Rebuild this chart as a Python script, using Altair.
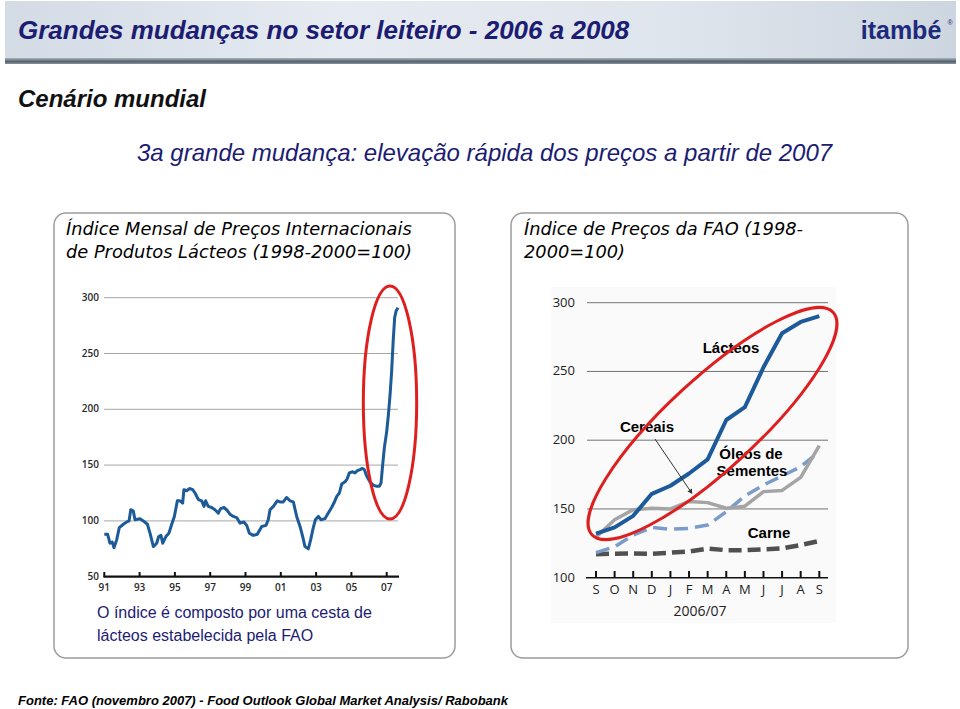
import altair as alt
import pandas as pd

# ---------------- data: left chart (monthly dairy price index, 1998-2000=100)
dairy_years = [1991.00, 1991.19, 1991.32, 1991.45, 1991.55, 1991.70, 1991.85, 1992.08, 1992.27, 1992.40,
               1992.50, 1992.64, 1992.74, 1993.02, 1993.21, 1993.44, 1993.59, 1993.78, 1993.97, 1994.08,
               1994.21, 1994.31, 1994.49, 1994.66, 1994.82, 1994.97, 1995.14, 1995.29, 1995.44, 1995.51,
               1995.67, 1995.82, 1996.01, 1996.14, 1996.33, 1996.52, 1996.65, 1996.74, 1996.89, 1997.08,
               1997.27, 1997.46, 1997.59, 1997.78, 1997.93, 1998.12, 1998.31, 1998.50, 1998.69, 1998.91,
               1999.07, 1999.22, 1999.44, 1999.67, 1999.92, 2000.16, 2000.29, 2000.39, 2000.58, 2000.80,
               2000.95, 2001.14, 2001.33, 2001.52, 2001.71, 2001.90, 2002.09, 2002.24, 2002.37, 2002.56,
               2002.69, 2002.84, 2002.96, 2003.13, 2003.28, 2003.50, 2003.69, 2003.88, 2004.01, 2004.17,
               2004.32, 2004.45, 2004.64, 2004.77, 2004.88, 2005.07, 2005.20, 2005.34, 2005.49, 2005.62,
               2005.73, 2005.87, 2006.05, 2006.24, 2006.43, 2006.58, 2006.68, 2006.77, 2006.87, 2007.00,
               2007.09, 2007.19, 2007.28, 2007.37, 2007.45, 2007.53, 2007.64]
dairy_index = [88, 88, 80, 81, 76, 83, 94, 97, 99, 100,
               110, 109, 101, 102, 100, 97, 89, 77, 80, 86,
               87, 80, 86, 89, 97, 104, 118, 118, 116, 128,
               127, 129, 128, 125, 119, 118, 113, 118, 113, 112,
               110, 107, 111, 112, 110, 106, 104, 103, 98, 99,
               96, 89, 87, 88, 95, 96, 101, 110, 113, 118,
               117, 117, 121, 118, 117, 104, 95, 86, 77, 75,
               83, 94, 101, 104, 101, 102, 107, 112, 116, 122,
               125, 133, 135, 138, 143, 144, 143, 145, 146, 147,
               146, 140, 135, 132, 131, 131, 134, 150, 166, 180,
               194, 213, 234, 262, 282, 288, 291]
left_y_ticks = [300, 250, 200, 150, 100, 50]
left_grid = [100, 150, 200, 250, 300]
left_x_ticks = [1991, 1993, 1995, 1997, 1999, 2001, 2003, 2005, 2007]
left_x_labels = ["91", "93", "95", "97", "99", "01", "03", "05", "07"]

# ---------------- data: right chart (FAO price indices, Sep 2006 - Sep 2007)
months = ["S", "O", "N", "D", "J", "F", "M", "A", "M", "J", "J", "A", "S"]
month_pos = list(range(13))
lacteos = [132, 136.6, 145, 161, 166.9, 175.8, 186, 214.7, 224, 253, 277.8, 286, 290.3]
cereais = [129.5, 142.2, 149.5, 150.5, 150, 155.5, 154.6, 150.5, 152, 162.6, 163.5, 173, 196]
oleos = [118.2, 122.5, 131, 136.6, 135.2, 135.9, 138.3, 148, 159.4, 167.4, 174, 180.7, 191.6]
carne = [117, 117.5, 117.7, 117.3, 118.2, 119, 121.2, 120, 120, 120.6, 121.3, 123.8, 126.7]
right_y_ticks = [300, 250, 200, 150, 100]
right_grid = [150, 200, 250, 300]

NAVY = "#1c1c72"
ARIAL = "Liberation Sans"
one = pd.DataFrame({"k": [0]})

LX = alt.Scale(domain=[1991, 2007], range=[104.3, 386.7], nice=False, zero=False)
LY = alt.Scale(domain=[50, 300], range=[576.7, 297.7], nice=False, zero=False)
RX = alt.Scale(domain=[0, 12], range=[596, 819.3], nice=False, zero=False)
RY = alt.Scale(domain=[100, 300], range=[577.7, 302.7], nice=False, zero=False)


def txt(s, x, y, size, color="black", weight="normal", style="normal", font=ARIAL, align="left"):
    return alt.Chart(pd.DataFrame({"t": [s]})).mark_text(
        align=align, baseline="middle", fontSize=size, fontWeight=weight,
        fontStyle=style, font=font, color=color
    ).encode(x=alt.value(x), y=alt.value(y), text="t:N")


def rect(x1, x2, y1, y2, **kw):
    return alt.Chart(one).mark_rect(**kw).encode(
        x=alt.value(x1), x2=alt.value(x2), y=alt.value(y1), y2=alt.value(y2))


def ellipse_path(a, b):
    k = 0.5523
    return (f"M 0 {-b} C {k*a} {-b} {a} {-k*b} {a} 0 C {a} {k*b} {k*a} {b} 0 {b} "
            f"C {-k*a} {b} {-a} {k*b} {-a} 0 C {-a} {-k*b} {-k*a} {-b} 0 {-b} Z")


layers = []

# ---------------- header band
header_grad = alt.Gradient(
    gradient="linear", x1=0, x2=1, y1=0, y2=0,
    stops=[alt.GradientStop(color="#d3dbe5", offset=0),
           alt.GradientStop(color="#e6ebf1", offset=0.35),
           alt.GradientStop(color="#dfe5ec", offset=0.7),
           alt.GradientStop(color="#cdd6e0", offset=1)])
layers.append(rect(5, 956, 1, 59, fill=header_grad))
bar_grad = alt.Gradient(
    gradient="linear", x1=0, x2=0, y1=0, y2=1,
    stops=[alt.GradientStop(color="#aab4bf", offset=0),
           alt.GradientStop(color="#55616d", offset=0.6),
           alt.GradientStop(color="#8a95a0", offset=1)])
layers.append(rect(5, 956, 58, 64, fill=bar_grad))
layers.append(txt("Grandes mudanças no setor leiteiro - 2006 a 2008", 18, 31, 26,
                  color=NAVY, weight="bold", style="italic"))
layers.append(txt("itambé", 901, 31, 25, color="#1e2a7c", weight=900, align="center"))
layers.append(txt("®", 950, 23, 7, color="#1e2a7c", align="center"))

layers.append(txt("Cenário mundial", 18, 100, 24, color="#111111", weight="bold", style="italic"))
layers.append(txt("3a grande mudança: elevação rápida dos preços a partir de 2007", 137, 154, 24,
                  color=NAVY, style="italic"))

# ---------------- boxes
layers.append(rect(54, 455, 213, 658, fill="white", stroke="#9c9c9c", strokeWidth=1.5, cornerRadius=12))
layers.append(rect(511, 908, 213, 658, fill="white", stroke="#9c9c9c", strokeWidth=1.5, cornerRadius=12))

BT = "DejaVu Sans"
layers.append(txt("Índice Mensal de Preços Internacionais", 66, 230, 17.8, style="italic", font=BT))
layers.append(txt("de Produtos Lácteos (1998-2000=100)", 66, 253, 17.8, style="italic", font=BT))
layers.append(txt("Índice de  Preços da FAO (1998-", 524, 230, 17.8, style="italic", font=BT))
layers.append(txt("2000=100)", 524, 253, 17.8, style="italic", font=BT))

layers.append(txt("O índice é composto por uma cesta de", 97, 613, 16, color=NAVY))
layers.append(txt("lácteos estabelecida pela FAO", 97, 636, 16, color=NAVY))

layers.append(txt("Fonte: FAO (novembro 2007) - Food Outlook Global Market Analysis/ Rabobank",
                  18, 701, 13, weight="bold", style="italic"))

# ---------------- left chart
TF = "Open Sans"
layers.append(alt.Chart(pd.DataFrame({"v": left_grid})).mark_rule(color="#a6a6a6", strokeWidth=1).encode(
    y=alt.Y("v:Q", scale=LY, axis=None), x=alt.value(104), x2=alt.value(398)))
layers.append(alt.Chart(pd.DataFrame({"v": [50]})).mark_rule(color="#111111", strokeWidth=2.3).encode(
    y=alt.Y("v:Q", scale=LY, axis=None), x=alt.value(103.5), x2=alt.value(399)))
layers.append(alt.Chart(pd.DataFrame({"yr": left_x_ticks})).mark_rule(color="#111111", strokeWidth=2).encode(
    x=alt.X("yr:Q", scale=LX, axis=None), y=alt.value(577), y2=alt.value(572)))
layers.append(alt.Chart(pd.DataFrame({"yr": left_x_ticks, "lab": left_x_labels})).mark_text(
    fontSize=10, font=TF, fontWeight=600, color="#2a2a2a", baseline="middle").encode(
    x=alt.X("yr:Q", scale=LX, axis=None), y=alt.value(588), text="lab:N"))
layers.append(alt.Chart(pd.DataFrame({"v": left_y_ticks})).mark_text(
    fontSize=10, font=TF, fontWeight=600, color="#2a2a2a", baseline="middle", align="right").encode(
    y=alt.Y("v:Q", scale=LY, axis=None), x=alt.value(99), text="v:Q"))
layers.append(alt.Chart(pd.DataFrame({"yr": dairy_years, "v": dairy_index})).mark_line(
    color="#1c5b98", strokeWidth=3, strokeJoin="round").encode(
    x=alt.X("yr:Q", scale=LX, axis=None), y=alt.Y("v:Q", scale=LY, axis=None)))

# ---------------- right chart
layers.append(rect(551, 836, 287, 623, fill="#fafafa"))
layers.append(alt.Chart(pd.DataFrame({"v": right_grid})).mark_rule(color="#737373", strokeWidth=1).encode(
    y=alt.Y("v:Q", scale=RY, axis=None), x=alt.value(587), x2=alt.value(828)))
layers.append(alt.Chart(pd.DataFrame({"v": [100]})).mark_rule(color="#111111", strokeWidth=1.5).encode(
    y=alt.Y("v:Q", scale=RY, axis=None), x=alt.value(586), x2=alt.value(828)))
layers.append(alt.Chart(pd.DataFrame({"i": month_pos})).mark_rule(color="#111111", strokeWidth=2).encode(
    x=alt.X("i:Q", scale=RX, axis=None), y=alt.value(578), y2=alt.value(571)))
layers.append(alt.Chart(pd.DataFrame({"i": month_pos, "m": months})).mark_text(
    fontSize=13, font=TF, color="#222222", baseline="middle").encode(
    x=alt.X("i:Q", scale=RX, axis=None), y=alt.value(590), text="m:N"))
layers.append(txt("2006/07", 700, 612, 14, color="#222222", font=TF, align="center"))
layers.append(alt.Chart(pd.DataFrame({"v": right_y_ticks})).mark_text(
    fontSize=13, font=TF, color="#222222", baseline="middle", align="right").encode(
    y=alt.Y("v:Q", scale=RY, axis=None), x=alt.value(575), text="v:Q"))


def series(vals, color, width, dash=None):
    kw = dict(color=color, strokeWidth=width, strokeJoin="round")
    if dash:
        kw["strokeDash"] = dash
    return alt.Chart(pd.DataFrame({"i": month_pos, "v": vals})).mark_line(**kw).encode(
        x=alt.X("i:Q", scale=RX, axis=None), y=alt.Y("v:Q", scale=RY, axis=None))


layers.append(series(carne, "#505050", 4.5, [13, 6]))
layers.append(series(oleos, "#7b9ccb", 3.5, [14, 7]))
layers.append(series(cereais, "#a4a4a4", 3.5))
layers.append(series(lacteos, "#1d5a9a", 4))

LB = dict(size=15, weight="bold", align="center")
layers.append(txt("Lácteos", 731, 348, **LB))
layers.append(txt("Cereais", 647, 427, **LB))
layers.append(txt("Óleos de", 751, 454, **LB))
layers.append(txt("Sementes", 752, 471, **LB))
layers.append(txt("Carne", 769, 533, **LB))

# arrow from "Cereais" label to its line
layers.append(alt.Chart(one).mark_rule(color="#333333", strokeWidth=1).encode(
    x=alt.value(655), y=alt.value(439), x2=alt.value(691), y2=alt.value(492)))
layers.append(alt.Chart(one).mark_point(shape="triangle-down", size=28, filled=True, opacity=1,
                                        color="#333333", angle=326).encode(
    x=alt.value(691), y=alt.value(492)))

# ---------------- red ellipses
layers.append(alt.Chart(one).mark_point(shape=ellipse_path(0.229, 1), size=(2 * 116.5) ** 2,
                                        filled=False, stroke="#dd1f1f", strokeWidth=3, opacity=1).encode(
    x=alt.value(390), y=alt.value(402.5)))
layers.append(alt.Chart(one).mark_point(shape=ellipse_path(1, 0.274), size=(2 * 164) ** 2,
                                        filled=False, stroke="#dd1f1f", strokeWidth=3, opacity=1,
                                        angle=317.3).encode(
    x=alt.value(712.5), y=alt.value(423.5)))

chart = alt.layer(*layers).properties(
    width=960, height=709, padding=0,
    autosize=alt.AutoSizeParams(type="none"),
    background="white",
).resolve_scale(x="independent", y="independent").configure_view(stroke=None)

chart.save("out.html", embed_options={"renderer": "svg", "actions": False})
